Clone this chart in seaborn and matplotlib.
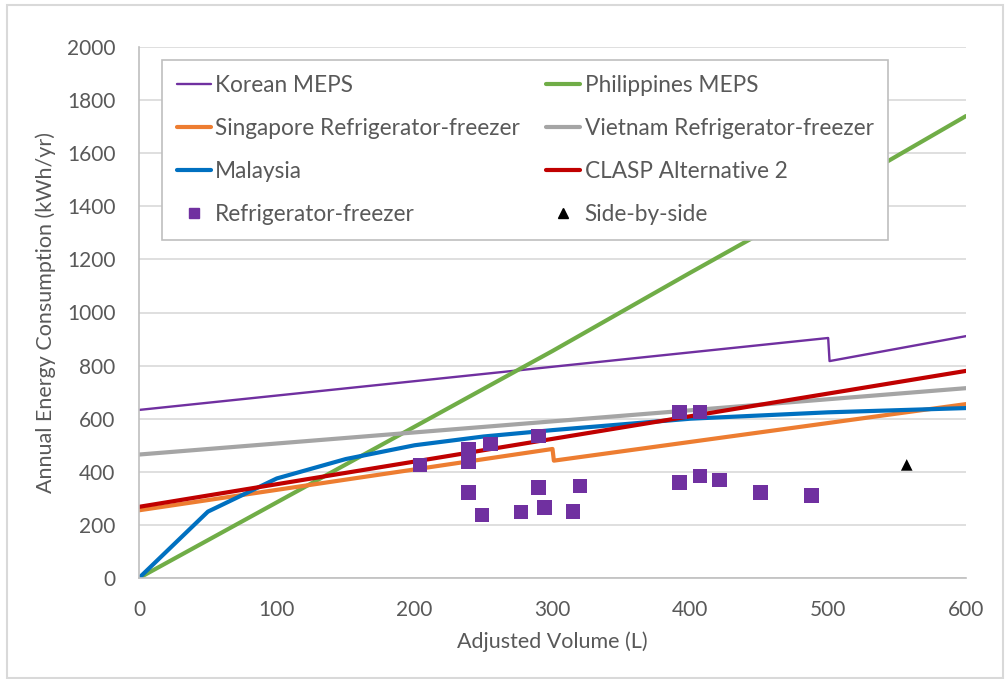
import matplotlib
matplotlib.use("Agg")
import matplotlib.pyplot as plt
import matplotlib.lines as mlines
from matplotlib.patches import Rectangle
import seaborn as sns
import pandas as pd

# ---- data ----
korean_x = [0, 500, 501, 600]
korean_y = [633, 904, 817, 911]

phil_x = [0, 100, 200, 300, 400, 500, 600]
phil_y = [0, 285, 570, 855, 1150, 1440, 1740]

sing_x = [0, 300, 301, 600]
sing_y = [255, 486, 442, 655]

viet_x = [0, 600]
viet_y = [465, 715]

malay_x = [0, 50, 100, 150, 200, 250, 300, 400, 500, 600]
malay_y = [0, 250, 375, 448, 500, 533, 557, 600, 624, 640]

clasp_x = [0, 600]
clasp_y = [268, 780]

rf_x = [204, 239, 239, 255, 290, 392, 407, 239, 249, 277, 290, 294, 315, 320, 392, 407, 421, 451, 488]
rf_y = [426, 485, 438, 505, 535, 625, 625, 321, 237, 249, 340, 266, 251, 346, 360, 384, 369, 321, 311]

sbs_x = [557]
sbs_y = [426]

x_ticks = [0, 100, 200, 300, 400, 500, 600]
y_ticks = [0, 200, 400, 600, 800, 1000, 1200, 1400, 1600, 1800, 2000]

sns.set_style("white")
plt.rcParams['font.family'] = ['Lato', 'DejaVu Sans']

fig = plt.figure(figsize=(10.05, 6.79), dpi=100)
ax = fig.add_axes([139/1005, 1 - 578/679, (966-139)/1005, (578-47)/679])

series = [
    ("Korean MEPS", korean_x, korean_y, "#7030A0", 1.7),
    ("Philippines MEPS", phil_x, phil_y, "#70AD47", 3.0),
    ("Singapore Refrigerator-freezer", sing_x, sing_y, "#ED7D31", 3.0),
    ("Vietnam Refrigerator-freezer", viet_x, viet_y, "#A5A5A5", 3.0),
    ("Malaysia", malay_x, malay_y, "#0070C0", 3.0),
    ("CLASP Alternative 2", clasp_x, clasp_y, "#C00000", 3.0),
]
handles = {}
for name, xs, ys, col, lw in series:
    df = pd.DataFrame({"x": xs, "y": ys})
    sns.lineplot(data=df, x="x", y="y", ax=ax, color=col, linewidth=lw,
                 sort=False, estimator=None, legend=False)
    handles[name] = mlines.Line2D([], [], color=col, linewidth=lw)

df_rf = pd.DataFrame({"x": rf_x, "y": rf_y})
sns.scatterplot(data=df_rf, x="x", y="y", ax=ax, marker="s", s=110,
                color="#7030A0", edgecolor="none", legend=False, zorder=5)
df_sbs = pd.DataFrame({"x": sbs_x, "y": sbs_y})
sns.scatterplot(data=df_sbs, x="x", y="y", ax=ax, marker="^", s=70,
                color="black", edgecolor="none", legend=False, zorder=5)
handles["Refrigerator-freezer"] = mlines.Line2D([], [], color="#7030A0", marker="s",
                                                 linestyle="none", markersize=7.5)
handles["Side-by-side"] = mlines.Line2D([], [], color="black", marker="^",
                                         linestyle="none", markersize=7.5)

ax.set_xlim(0, 600)
ax.set_ylim(0, 2000)
ax.set_xticks(x_ticks)
ax.set_yticks(y_ticks)
ax.grid(axis="y", color="#D9D9D9", linewidth=1.2)
ax.set_axisbelow(True)
for s in ["top", "right"]:
    ax.spines[s].set_visible(False)
for s in ["left", "bottom"]:
    ax.spines[s].set_color("#BFBFBF")
    ax.spines[s].set_linewidth(1.2)
ax.tick_params(axis="both", length=0, labelsize=15, labelcolor="#595959")
ax.tick_params(axis="x", pad=16)
ax.tick_params(axis="y", pad=17)
ax.set_xlabel("Adjusted Volume (L)", fontsize=15.5, color="#595959", labelpad=8)
ax.set_ylabel("Annual Energy Consumption (kWh/yr)", fontsize=15.5, color="#595959", labelpad=8)

order = ["Korean MEPS", "Singapore Refrigerator-freezer", "Malaysia", "Refrigerator-freezer",
         "Philippines MEPS", "Vietnam Refrigerator-freezer", "CLASP Alternative 2", "Side-by-side"]
leg = ax.legend([handles[k] for k in order], order, ncol=2, loc="upper left",
                bbox_to_anchor=(0.028, 0.975),
                frameon=True, fancybox=False, fontsize=16.3, labelcolor="#595959",
                handlelength=1.5, handletextpad=0.2, labelspacing=0.97,
                borderaxespad=0, borderpad=0.65, columnspacing=1.15)
leg.get_frame().set_edgecolor("#BFBFBF")
leg.get_frame().set_linewidth(1.2)
leg.get_frame().set_alpha(1)

fig.patches.append(Rectangle((7/1005, 1/679), (1003-7)/1005, (674-1)/679,
                             transform=fig.transFigure, fill=False,
                             edgecolor="#D9D9D9", linewidth=1.5))

fig.savefig("out.png", dpi=100)
